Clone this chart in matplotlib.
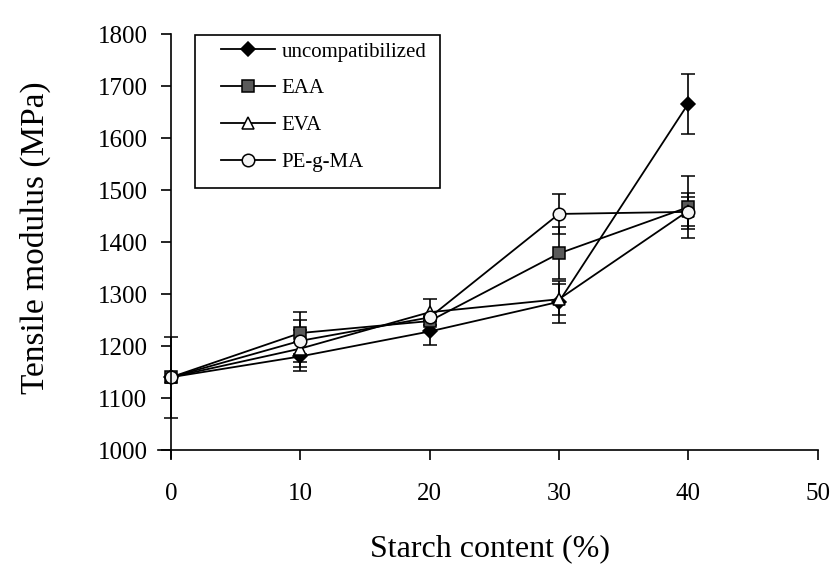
import matplotlib
matplotlib.use("Agg")
import matplotlib.pyplot as plt
from matplotlib.lines import Line2D
from matplotlib.patches import Rectangle

plt.rcParams['font.family'] = ['Liberation Serif', 'DejaVu Serif']

starch = [0, 10, 20, 30, 40]
series_names = ["uncompatibilized", "EAA", "EVA", "PE-g-MA"]
uncomp = [1140, 1180, 1228, 1285, 1666]
uncomp_err = [0, 28, 26, 40, 58]
eaa = [1140, 1225, 1248, 1378, 1467]
eaa_err = [78, 40, 0, 50, 60]
eva = [1140, 1195, 1265, 1290, 1460]
eva_err = [0, 36, 25, 30, 34]
pegma = [1140, 1210, 1255, 1454, 1458]
pegma_err = [0, 40, 0, 38, 28]

x_ticks = [0, 10, 20, 30, 40, 50]
y_ticks = [1000, 1100, 1200, 1300, 1400, 1500, 1600, 1700, 1800]

fig = plt.figure(figsize=(8.39, 5.69), dpi=100)
ax = fig.add_axes([0.1884, 0.1954, 0.786, 0.7448])

styles = [
    (uncomp, uncomp_err, dict(marker='D', markersize=7, markerfacecolor='black', markeredgecolor='black')),
    (eaa, eaa_err, dict(marker='s', markersize=8, markerfacecolor='#5a5a5a', markeredgecolor='black')),
    (eva, eva_err, dict(marker='^', markersize=9, markerfacecolor='white', markeredgecolor='black')),
    (pegma, pegma_err, dict(marker='o', markersize=9, markerfacecolor='#f4f4f4', markeredgecolor='black')),
]
handles = []
for (vals, errs, st), name in zip(styles, series_names):
    ax.errorbar(starch, vals, yerr=errs, color='black', linewidth=1.3,
                elinewidth=1.2, capsize=5, capthick=1.2,
                markeredgewidth=1.1, **st)
    handles.append(Line2D([], [], color='black', linewidth=1.3, markeredgewidth=1.1, **st))

ax.set_xlim(-1, 50)
ax.set_ylim(985, 1800)
ax.spines['left'].set_position(('data', 0))
ax.spines['bottom'].set_position(('data', 1000))
ax.spines['top'].set_visible(False)
ax.spines['right'].set_visible(False)
for s in ['left', 'bottom']:
    ax.spines[s].set_linewidth(1.2)
ax.set_xticks(x_ticks)
ax.set_yticks(y_ticks)
ax.tick_params(axis='both', direction='out', length=7, width=1.2, labelsize=18)
ax.tick_params(axis='x', pad=17)
ax.tick_params(axis='y', pad=10)

fig.text(0.042, 0.583, "Tensile modulus (MPa)", rotation=90, ha='center', va='center', fontsize=24)
fig.text(0.584, 0.035, "Starch content (%)", ha='center', va='center', fontsize=23)

# legend frame
fig.patches.append(Rectangle((195 / 839, 1 - 188 / 569), 245 / 839, 153 / 569,
                             transform=fig.transFigure, fill=False,
                             edgecolor='black', linewidth=1.2))
leg = ax.legend(handles=handles, labels=series_names, loc='upper left',
                bbox_to_anchor=(221 / 839, 1 - 42 / 569), bbox_transform=fig.transFigure,
                fontsize=15, frameon=False, handlelength=2.6, handletextpad=0.3,
                labelspacing=0.83, borderpad=0, borderaxespad=0)

fig.savefig("out.png", dpi=100)
